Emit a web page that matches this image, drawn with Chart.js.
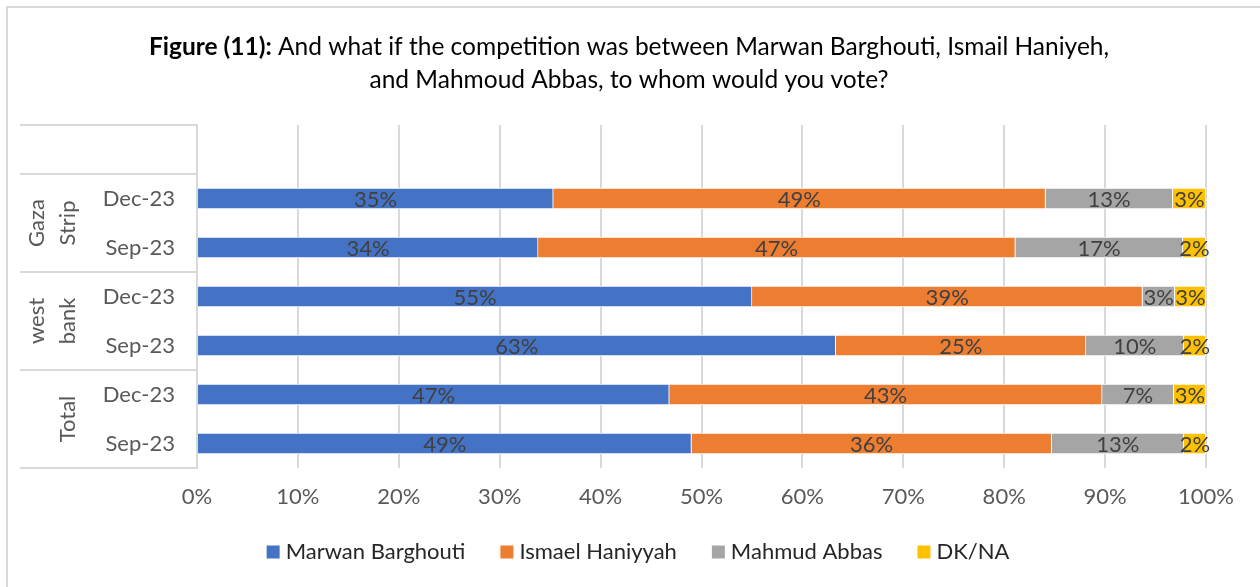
<!DOCTYPE html>
<html>
<head>
<meta charset="utf-8">
<script src="https://cdn.jsdelivr.net/npm/chart.js@4.4.1/dist/chart.umd.min.js"></script>
<style>
  html, body { margin: 0; padding: 0; background: #fff; }
  #chart { display: block; }
</style>
</head>
<body>
<canvas id="chart" width="1260" height="587"></canvas>
<script>
// Category labels (first row is the empty one Excel leaves on top)
const periodLabels = ['', 'Dec-23', 'Sep-23', 'Dec-23', 'Sep-23', 'Dec-23', 'Sep-23'];
const groupLabels = [['Gaza', 'Strip'], ['west', 'bank'], ['Total']];

// Series values (percent)
const barghouti = [null, 35.3, 33.8, 55.0, 63.3, 46.8, 49.0];
const haniyyah  = [null, 48.8, 47.3, 38.7, 24.8, 42.9, 35.7];
const abbas     = [null, 12.6, 16.6, 3.2, 9.7, 7.1, 13.1];
const dkna      = [null, 3.3, 2.3, 3.1, 2.2, 3.2, 2.2];

const seriesNames = ['Marwan Barghouti', 'Ismael Haniyyah', 'Mahmud Abbas', 'DK/NA'];
const seriesColors = ['#4472C4', '#ED7D31', '#A5A5A5', '#FFC000'];

const FONT = 'Lato, "Open Sans", sans-serif';
const FONT_SIZE = 22;
const TITLE_SIZE = 24.5;
const LINE_COLOR = '#D9D9D9';

// Outer frame and title
const frameTitlePlugin = {
    id: 'frameTitle',
    beforeDraw(chart) {
        const ctx = chart.ctx;
        ctx.save();
        ctx.fillStyle = '#fff';
        ctx.fillRect(0, 0, chart.width, chart.height);
        ctx.strokeStyle = LINE_COLOR;
        ctx.lineWidth = 2;
        ctx.beginPath();
        ctx.moveTo(7, chart.height);
        ctx.lineTo(7, 7);
        ctx.lineTo(chart.width, 7);
        ctx.stroke();

        // Title: bold prefix then normal text, centered
        const boldPart = 'Figure (11):';
        const restPart = ' And what if the competition was between Marwan Barghouti, Ismail Haniyeh,';
        const line2 = 'and Mahmoud Abbas, to whom would you vote?';
        ctx.fillStyle = '#000';
        ctx.textBaseline = 'middle';
        ctx.font = 'bold ' + TITLE_SIZE + 'px ' + FONT;
        const wBold = ctx.measureText(boldPart).width;
        ctx.font = TITLE_SIZE + 'px ' + FONT;
        const wRest = ctx.measureText(restPart).width;
        const cx = 629;
        let x = cx - (wBold + wRest) / 2;
        ctx.textAlign = 'left';
        ctx.font = 'bold ' + TITLE_SIZE + 'px ' + FONT;
        ctx.fillText(boldPart, x, 47);
        ctx.font = TITLE_SIZE + 'px ' + FONT;
        ctx.fillText(restPart, x + wBold, 47);
        ctx.textAlign = 'center';
        ctx.fillText(line2, cx, 80);
        ctx.restore();
    }
};

// Percent labels centered in each bar segment
const dataLabelPlugin = {
    id: 'dataLabels',
    afterDatasetsDraw(chart) {
        const ctx = chart.ctx;
        ctx.save();
        ctx.font = FONT_SIZE + 'px ' + FONT;
        ctx.fillStyle = '#404040';
        ctx.textAlign = 'center';
        ctx.textBaseline = 'middle';
        chart.data.datasets.forEach((ds, i) => {
            const meta = chart.getDatasetMeta(i);
            meta.data.forEach((bar, j) => {
                const v = ds.data[j];
                if (v == null) return;
                ctx.fillText(Math.round(v) + '%', (bar.x + bar.base) / 2, bar.y + 1);
            });
        });
        ctx.restore();
    }
};

// Outer category level: boxes and rotated group names
const groupAxisPlugin = {
    id: 'groupAxis',
    afterDraw(chart) {
        const ctx = chart.ctx;
        const y = chart.scales.y;
        const left = 20;
        const right = chart.chartArea.left;
        const half = (y.getPixelForValue(1) - y.getPixelForValue(0)) / 2;
        const bounds = [0, 1, 3, 5].map(i => y.getPixelForValue(i) - half);
        bounds.push(y.getPixelForValue(6) + half);

        ctx.save();
        ctx.strokeStyle = LINE_COLOR;
        ctx.lineWidth = 2;
        ctx.beginPath();
        bounds.forEach(b => {
            ctx.moveTo(left, b);
            ctx.lineTo(right, b);
        });
        ctx.stroke();

        ctx.font = FONT_SIZE + 'px ' + FONT;
        ctx.fillStyle = '#595959';
        ctx.textAlign = 'center';
        ctx.textBaseline = 'middle';
        groupLabels.forEach((lines, g) => {
            const cy = (bounds[g + 1] + bounds[g + 2]) / 2;
            lines.forEach((txt, k) => {
                const cx = 68 - (lines.length - 1 - k) * 31;
                ctx.save();
                ctx.translate(cx, cy);
                ctx.rotate(-Math.PI / 2);
                ctx.fillText(txt, 0, 0);
                ctx.restore();
            });
        });
        ctx.restore();
    }
};

// Legend drawn below the axis
const legendPlugin = {
    id: 'bottomLegend',
    afterDraw(chart) {
        const ctx = chart.ctx;
        ctx.save();
        ctx.font = FONT_SIZE + 'px ' + FONT;
        ctx.textBaseline = 'middle';
        ctx.textAlign = 'left';
        const box = 13, gap = 6, spacing = 35;
        const items = chart.data.datasets.map(ds => ({
            label: ds.label,
            color: ds.backgroundColor,
            w: ctx.measureText(ds.label).width
        }));
        const total = items.reduce((s, it) => s + box + gap + it.w, 0) + spacing * (items.length - 1);
        let x = 638 - total / 2;
        const cy = 552;
        items.forEach(it => {
            ctx.fillStyle = it.color;
            ctx.fillRect(x, cy - box / 2, box, box);
            ctx.fillStyle = '#262626';
            ctx.fillText(it.label, x + box + gap, cy);
            x += box + gap + it.w + spacing;
        });
        ctx.restore();
    }
};

function makeDataset(label, data, color) {
    return {
        label: label,
        data: data,
        backgroundColor: color,
        borderColor: '#fff',
        borderWidth: 1,
        barThickness: 21
    };
}

window.onload = () => {
    const ctx = document.getElementById('chart').getContext('2d');
    new Chart(ctx, {
        type: 'bar',
        data: {
            labels: periodLabels,
            datasets: [
                makeDataset(seriesNames[0], barghouti, seriesColors[0]),
                makeDataset(seriesNames[1], haniyyah, seriesColors[1]),
                makeDataset(seriesNames[2], abbas, seriesColors[2]),
                makeDataset(seriesNames[3], dkna, seriesColors[3])
            ]
        },
        options: {
            indexAxis: 'y',
            responsive: false,
            animation: false,
            layout: { padding: { left: 20, top: 125, right: 54, bottom: 0 } },
            plugins: {
                legend: { display: false },
                title: { display: false },
                tooltip: { enabled: false }
            },
            scales: {
                x: {
                    stacked: true,
                    min: 0,
                    max: 100,
                    afterFit: (scale) => { scale.height = 119; },
                    ticks: {
                        stepSize: 10,
                        padding: 16,
                        color: '#595959',
                        font: { family: FONT, size: FONT_SIZE },
                        callback: (v) => v + '%'
                    },
                    grid: { color: LINE_COLOR, lineWidth: 2, drawTicks: false },
                    border: { display: false }
                },
                y: {
                    stacked: true,
                    afterFit: (scale) => { scale.width = 177; },
                    ticks: {
                        padding: 22,
                        color: '#595959',
                        font: { family: FONT, size: FONT_SIZE }
                    },
                    grid: { display: false, drawTicks: false },
                    border: { display: true, color: LINE_COLOR, width: 2 }
                }
            }
        },
        plugins: [frameTitlePlugin, dataLabelPlugin, groupAxisPlugin, legendPlugin]
    });
};
</script>
</body>
</html>
